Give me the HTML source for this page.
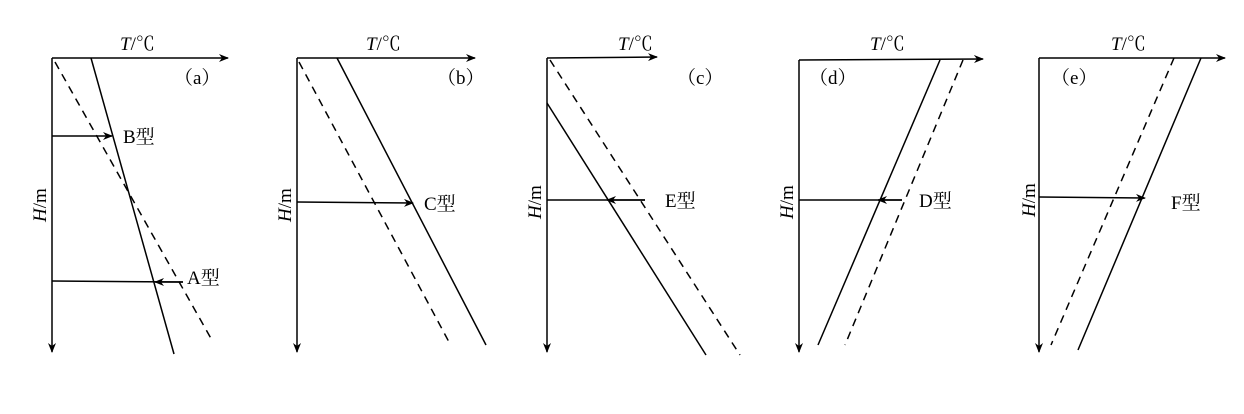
<!DOCTYPE html>
<html><head><meta charset="utf-8"><style>
html,body{margin:0;padding:0;background:#fff;}
svg{display:block;}
text{font-family:"Liberation Serif","Noto Serif CJK SC",serif;font-size:19px;fill:#000;}
</style></head><body>
<svg width="1244" height="414" viewBox="0 0 1244 414" xmlns="http://www.w3.org/2000/svg">
<defs>
<marker id="ah" markerWidth="10" markerHeight="8" refX="9" refY="4" orient="auto" markerUnits="userSpaceOnUse">
<path d="M0,0 L10,4 L0,8 L3,4 Z" fill="#000"/>
</marker>
</defs>
<g stroke="#000" stroke-width="1.5" fill="none">
<!-- a -->
<line x1="52" y1="58" x2="228" y2="58" marker-end="url(#ah)"/>
<line x1="52" y1="58" x2="52" y2="352" marker-end="url(#ah)"/>
<line x1="91" y1="58" x2="174" y2="354"/>
<line x1="55" y1="62" x2="213" y2="342" stroke-dasharray="8,6"/>
<line x1="52" y1="136" x2="112" y2="136" marker-end="url(#ah)"/>
<line x1="52" y1="281" x2="183" y2="282"/>
<line x1="183" y1="282" x2="155" y2="282" marker-end="url(#ah)"/>
<!-- b -->
<line x1="297" y1="58" x2="475" y2="58" marker-end="url(#ah)"/>
<line x1="297" y1="58" x2="297" y2="352" marker-end="url(#ah)"/>
<line x1="337" y1="58" x2="486" y2="345"/>
<line x1="299" y1="62" x2="449" y2="342" stroke-dasharray="8,6"/>
<line x1="297" y1="202" x2="413" y2="203" marker-end="url(#ah)"/>
<!-- c -->
<line x1="547" y1="58" x2="657" y2="57" marker-end="url(#ah)"/>
<line x1="547" y1="58" x2="547" y2="352" marker-end="url(#ah)"/>
<line x1="547" y1="103" x2="706" y2="355"/>
<line x1="550" y1="60" x2="740" y2="355" stroke-dasharray="8,6"/>
<line x1="547" y1="200" x2="645" y2="200"/>
<line x1="645" y1="200" x2="607" y2="200" marker-end="url(#ah)"/>
<!-- d -->
<line x1="799" y1="60" x2="983" y2="59" marker-end="url(#ah)"/>
<line x1="799" y1="60" x2="799" y2="352" marker-end="url(#ah)"/>
<line x1="940" y1="60" x2="818" y2="345"/>
<line x1="963" y1="60" x2="845" y2="345" stroke-dasharray="8,6"/>
<line x1="799" y1="200" x2="902" y2="200"/>
<line x1="902" y1="200" x2="878" y2="200" marker-end="url(#ah)"/>
<!-- e -->
<line x1="1039" y1="58" x2="1225" y2="58" marker-end="url(#ah)"/>
<line x1="1039" y1="58" x2="1039" y2="352" marker-end="url(#ah)"/>
<line x1="1201" y1="58" x2="1078" y2="350"/>
<line x1="1174" y1="58" x2="1051" y2="345" stroke-dasharray="8,6"/>
<line x1="1039" y1="197" x2="1145" y2="198" marker-end="url(#ah)"/>
</g>
<!-- labels -->
<text x="120" y="50"><tspan font-style="italic">T</tspan>/℃</text>
<text x="366" y="50"><tspan font-style="italic">T</tspan>/℃</text>
<text x="618" y="50"><tspan font-style="italic">T</tspan>/℃</text>
<text x="870" y="50"><tspan font-style="italic">T</tspan>/℃</text>
<text x="1111" y="50"><tspan font-style="italic">T</tspan>/℃</text>
<text x="174" y="84">（a）</text>
<text x="437" y="84">（b）</text>
<text x="677" y="84">（c）</text>
<text x="809" y="84">（d）</text>
<text x="1051" y="84">（e）</text>
<text x="123" y="143">B型</text>
<text x="187" y="284">A型</text>
<text x="424" y="210">C型</text>
<text x="665" y="207">E型</text>
<text x="919" y="207">D型</text>
<text x="1171" y="209">F型</text>
<g>
<text transform="translate(46,222) rotate(-90)"><tspan font-style="italic">H</tspan>/m</text>
<text transform="translate(291,222) rotate(-90)"><tspan font-style="italic">H</tspan>/m</text>
<text transform="translate(541,219) rotate(-90)"><tspan font-style="italic">H</tspan>/m</text>
<text transform="translate(793,219) rotate(-90)"><tspan font-style="italic">H</tspan>/m</text>
<text transform="translate(1035,217) rotate(-90)"><tspan font-style="italic">H</tspan>/m</text>
</g>
</svg>
</body></html>
